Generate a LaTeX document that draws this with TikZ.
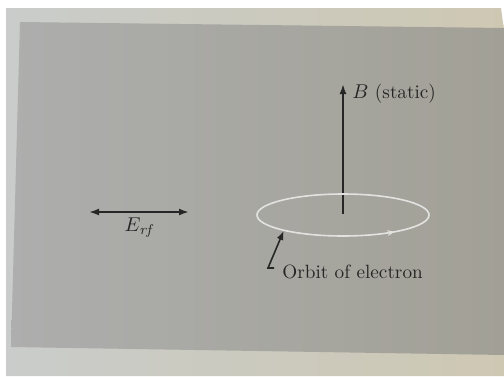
\documentclass[tikz,border=0pt]{standalone}
\usetikzlibrary{arrows.meta,positioning,shapes.geometric,decorations.markings}

\definecolor{ink}{HTML}{262626}
\definecolor{ringwhite}{HTML}{E2E2E0}
\definecolor{pageleft}{HTML}{C9CCCA}
\definecolor{pageright}{HTML}{CEC8B3}
\definecolor{panelleft}{HTML}{ADAEAD}
\definecolor{panelright}{HTML}{A2A096}

\begin{document}
\begin{tikzpicture}[x=0.5pt, y=-0.5pt,
    every node/.style={font=\fontsize{9.6}{11}\selectfont, text=ink},
    vec/.style={draw=ink, line width=1.2pt},
    pointer/.style={draw=ink, line width=0.8pt},
    orbitring/.style={draw=ringwhite, ellipse, line width=0.8pt, inner sep=0pt,
      minimum width=86pt, minimum height=21pt}]
    % page and printed panel
    \fill[white] (0,0) rectangle (504,376);
    \useasboundingbox (0,0) rectangle (504,376);
    \shade[left color=pageleft, right color=pageright] (6,8) -- (501,8) -- (504,30) -- (504,376) -- (6,376) -- cycle;
    \shade[left color=panelleft, right color=panelright] (20,22) -- (504,28) -- (504,355) -- (11,347) -- cycle;

    % static field
    \coordinate (bfoot) at (343,214);
    \coordinate (btip) at (343,84);
    \draw[vec, -{Latex[length=5pt,width=3.5pt]}] (bfoot) -- (btip);
    \node[anchor=west, inner sep=0pt] (blabel) at (352,94) {$B$ (static)};

    % rf field
    \coordinate (eleft) at (89,212);
    \coordinate (eright) at (189,212);
    \draw[vec, line width=1pt, {Latex[length=5pt,width=3.5pt]}-{Latex[length=5pt,width=3.5pt]}] (eleft) -- (eright);
    \node (elabel) at (140,228) {$E_{\mathit{rf}}$};

    % orbit
    \node[orbitring, postaction={decorate, decoration={markings,
      mark=at position 0.89 with {\arrow[ringwhite]{Stealth[length=3.5pt,width=3pt]}}}}] (orbit) at (343,215) {};
    \coordinate (ptail) at (268,268);
    \coordinate (ptick) at (274,268);
    \draw[pointer, -{Latex[length=4.5pt,width=3.5pt]}] (ptick) -- (ptail) -- (orbit.195);
    \node[anchor=west, inner sep=0pt] (orbitlabel) at (282,272) {Orbit of electron};
\end{tikzpicture}
\end{document}
